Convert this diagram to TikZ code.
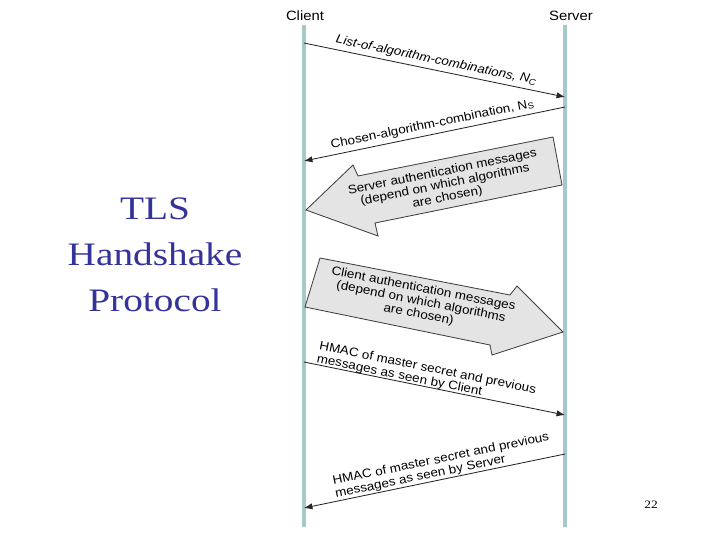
\documentclass[tikz,border=0pt]{standalone}
\usepackage{fontspec}
\setmainfont{Liberation Serif}
\newfontfamily\msgfont[FakeStretch=1.1]{Liberation Sans}
\newfontfamily\slidefont[FakeStretch=1.2]{Liberation Serif}
\usetikzlibrary{arrows.meta}
\definecolor{lifeteal}{RGB}{163,201,201}
\definecolor{slideblue}{RGB}{51,51,153}
\definecolor{arrowgray}{RGB}{228,228,228}
\tikzset{
        % Lifelines of client and server
        life_line/.style={draw=lifeteal, line width=2.8pt},
        party_label/.style={font=\msgfont\fontsize{9.6}{10}\selectfont, inner sep=1pt},
        % Plain messages
        msg_arrow/.style={draw=black!85, line width=0.6pt, -{Latex[length=6pt,width=4.5pt]}},
        msg_label/.style={font=\msgfont\fontsize{8.7}{9.2}\selectfont, sloped, inner sep=0pt, align=left},
        % Fat arrows
        big_arrow/.style={draw=black!75, line width=0.6pt, fill=arrowgray},
        big_text/.style={font=\msgfont\fontsize{8.7}{9.2}\selectfont, align=center, inner sep=0pt},
        % Slide text
        slide_title/.style={font=\slidefont\fontsize{23.3}{32.7}\selectfont, text=slideblue, align=center}
}

\begin{document}
\begin{tikzpicture}[x=0.025cm, y=-0.025cm]
    \useasboundingbox (0,0) rectangle (720,540);
    % Parties
    \node[party_label] (client) at (305,16) {Client};
    \node[party_label] (server) at (571,16) {Server};
    \coordinate (client_top) at (304,25);
    \coordinate (client_bot) at (304,527);
    \coordinate (server_top) at (565,25);
    \coordinate (server_bot) at (565,527);
    \draw[life_line] (client_top) -- (client_bot);
    \draw[life_line] (server_top) -- (server_bot);
    % Message ends
    \coordinate (c_list) at (304,43);
    \coordinate (s_list) at (565,97);
    \coordinate (s_chosen) at (565,107);
    \coordinate (c_chosen) at (304,161);
    \coordinate (c_hmac) at (304,362);
    \coordinate (s_hmac) at (565,415);
    \coordinate (s_hmac2) at (565,454);
    \coordinate (c_hmac2) at (304,508);
    % Messages
    \draw[msg_arrow] (c_list) -- node[msg_label, above=2.5pt, pos=0.5]
        {\itshape List-of-algorithm-combinations, N\textsubscript{C}} (s_list);
    \draw[msg_arrow] (s_chosen) -- node[msg_label, above=2.5pt, pos=0.5]
        {Chosen-algorithm-combination, N\textsubscript{S}} (c_chosen);
    \draw[msg_arrow] (c_hmac) -- node[msg_label, above=-0.5pt, pos=0.46]
        {HMAC of master secret and previous\\messages as seen by Client} (s_hmac);
    \draw[msg_arrow] (s_hmac2) -- node[msg_label, above=0.5pt, pos=0.46]
        {HMAC of master secret and previous\\messages as seen by Server} (c_hmac2);
    % Server authentication
    \draw[big_arrow] (306,210) -- (353,165) -- (358,176) -- (553,137)
        -- (562,185) -- (375,223) -- (378,236) -- cycle;
    \node[big_text, rotate=11.3] (server_auth) at (445,185)
        {Server authentication messages\\(depend on which algorithms\\are chosen)};
    % Client authentication
    \draw[big_arrow] (320,258) -- (510,295) -- (517,286) -- (563,332)
        -- (492,355) -- (490,345) -- (305,307) -- cycle;
    \node[big_text, rotate=-11] (client_auth) at (421,302)
        {Client authentication messages\\(depend on which algorithms\\are chosen)};
    % Slide text
    \node[slide_title] (title) at (155,255) {TLS\\Handshake\\Protocol};
    \node[font=\slidefont\fontsize{8}{9}\selectfont] (page_num) at (651,505) {22};
\end{tikzpicture}
\end{document}
